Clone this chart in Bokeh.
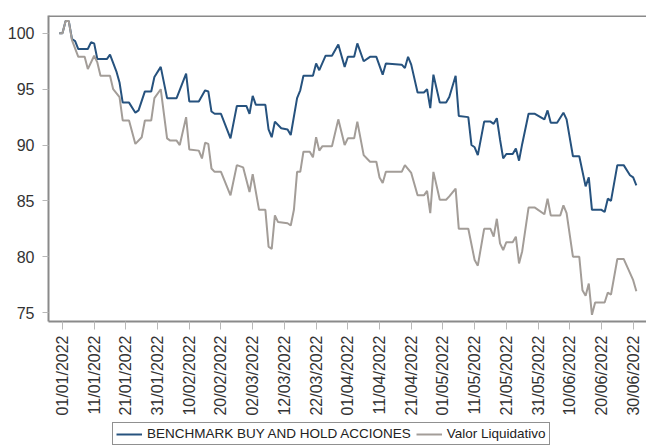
import math
import pandas as pd
from bokeh.plotting import figure
from bokeh.layouts import column
from bokeh.models import (FixedTicker, DatetimeTickFormatter, Legend, LegendItem,
                          Range1d, Span)
from bokeh.embed import file_html
from bokeh.resources import INLINE

# ---------------- data ----------------
start_date = "2022-01-01"   # day 0

bench_day = [-1, 0, 1, 2, 3, 4, 5, 8, 9, 10, 11, 14, 15, 17, 18, 19, 21, 23, 24, 26,
             28, 29, 31, 33, 36, 39, 40, 43, 45, 46, 47, 48, 50, 53, 55, 58, 59, 60, 61, 64,
             65, 66, 67, 69, 71, 72, 74, 75, 76, 79, 80, 81, 83, 85, 87, 89, 90, 92, 93, 95,
             97, 99, 101, 102, 107, 108, 109, 110, 112, 114, 115, 116, 117, 119, 121, 122, 124, 125, 128, 129,
             130, 131, 133, 135, 136, 137, 138, 139, 140, 142, 143, 144, 145, 147, 149, 152, 153, 154, 156, 158,
             159, 161, 163, 165, 166, 167, 170, 171, 172, 173, 175, 177, 179, 180, 181]
bench_val = [100.0, 100.0, 101.1, 101.1, 99.5, 99.3, 98.6, 98.6, 99.2, 99.1,
             97.7, 97.7, 98.1, 96.6, 95.6, 93.8, 93.8, 92.9, 93.1, 94.8,
             94.8, 96.1, 97.0, 94.2, 94.2, 96.4, 93.9, 93.9, 94.9, 94.8,
             93.0, 92.8, 92.8, 90.6, 93.5, 93.5, 92.8, 94.4, 93.6, 93.6,
             91.4, 90.7, 92.1, 91.5, 91.4, 90.9, 94.2, 94.9, 96.2, 96.2,
             97.3, 96.7, 98.0, 98.0, 99.0, 97.0, 97.9, 97.9, 99.1, 97.5,
             97.9, 97.9, 96.3, 97.3, 97.2, 96.9, 97.9, 97.2, 94.7, 94.7,
             95.0, 93.3, 96.3, 93.8, 93.8, 94.3, 96.2, 92.6, 92.5, 90.0,
             89.8, 89.1, 92.1, 92.1, 91.9, 92.4, 90.5, 88.8, 89.2, 89.2,
             89.7, 88.6, 90.1, 92.8, 92.8, 92.3, 93.1, 92.0, 92.0, 92.9,
             92.3, 89.0, 89.0, 86.3, 87.1, 84.2, 84.2, 84.0, 85.2, 85.0,
             88.2, 88.2, 87.3, 87.1, 86.4]

vl_day = [-1, 0, 1, 2, 3, 5, 7, 8, 10, 11, 12, 15, 16, 18, 19, 21, 23, 25, 26, 28,
          29, 31, 33, 34, 36, 37, 39, 40, 43, 44, 45, 46, 47, 48, 50, 53, 55, 57, 59, 60,
          62, 64, 65, 66, 67, 68, 71, 72, 73, 74, 75, 76, 78, 79, 80, 81, 82, 85, 87, 89,
          90, 92, 93, 95, 97, 99, 100, 101, 102, 107, 108, 110, 112, 114, 115, 116, 117, 119, 121, 122,
          124, 125, 128, 130, 131, 133, 135, 136, 137, 138, 139, 140, 142, 143, 144, 145, 147, 149, 152, 153,
          154, 157, 158, 159, 161, 163, 164, 165, 166, 167, 168, 171, 172, 173, 175, 177, 180, 181]
vl_val = [100.0, 100.0, 101.1, 101.1, 99.4, 97.9, 97.9, 96.8, 98.0, 97.4,
          96.2, 96.2, 95.0, 94.3, 92.2, 92.2, 90.1, 90.7, 92.2, 92.2,
          94.2, 95.0, 90.6, 90.4, 90.4, 90.0, 92.5, 89.6, 89.5, 88.8,
          90.2, 90.1, 87.9, 87.6, 87.6, 85.5, 88.2, 88.0, 85.8, 87.4,
          84.2, 84.2, 80.9, 80.7, 83.7, 83.1, 83.0, 82.8, 84.2, 87.6,
          87.6, 89.4, 89.4, 88.9, 90.7, 89.5, 89.9, 89.9, 92.3, 90.0,
          90.6, 90.6, 92.1, 89.1, 88.5, 88.5, 87.1, 86.6, 87.6, 87.6,
          88.2, 87.5, 85.5, 85.5, 85.9, 83.9, 87.6, 85.1, 85.1, 85.4,
          86.1, 82.5, 82.5, 79.7, 79.2, 82.5, 82.5, 81.8, 83.4, 81.2,
          80.6, 81.3, 81.3, 81.8, 79.4, 80.5, 84.4, 84.4, 83.8, 85.2,
          83.7, 83.7, 84.6, 83.9, 80.0, 80.0, 77.0, 76.5, 77.6, 74.8,
          75.9, 75.9, 76.8, 76.6, 79.8, 79.8, 77.9, 76.9]

series_names = ["BENCHMARK BUY AND HOLD ACCIONES", "Valor Liquidativo"]
series_colors = ["#26527e", "#a39d98"]
tick_labels = ["01/01/2022", "11/01/2022", "21/01/2022", "31/01/2022", "10/02/2022",
               "20/02/2022", "02/03/2022", "12/03/2022", "22/03/2022", "01/04/2022",
               "11/04/2022", "21/04/2022", "01/05/2022", "11/05/2022", "21/05/2022",
               "31/05/2022", "10/06/2022", "20/06/2022", "30/06/2022"]
y_ticks = [75, 80, 85, 90, 95, 100]
y_min, y_max = 74.2, 101.6

# ---------------- build ----------------
t0 = pd.Timestamp(start_date)
bench_x = [t0 + pd.Timedelta(days=d) for d in bench_day]
vl_x = [t0 + pd.Timedelta(days=d) for d in vl_day]
tick_ts = pd.to_datetime(tick_labels, format="%d/%m/%Y")
tick_ms = [ts.value / 1e6 for ts in tick_ts]

FONT = "Liberation Sans"
FRAME = "#8a8a8a"

p = figure(width=646, height=420, x_axis_type="datetime",
           output_backend="svg", toolbar_location=None,
           x_range=Range1d(t0 - pd.Timedelta(days=4.4), t0 + pd.Timedelta(days=184.2)),
           y_range=Range1d(y_min, y_max),
           min_border_left=48, min_border_right=0, min_border_top=15, min_border_bottom=99)
p.outline_line_color = None
p.grid.visible = False
p.background_fill_color = "white"

p.line(bench_x, bench_val, line_color=series_colors[0], line_width=2)
p.line(vl_x, vl_val, line_color=series_colors[1], line_width=2)

xa = p.xaxis[0]
xa.ticker = FixedTicker(ticks=tick_ms)
fmt = "%d/%m/%Y"
xa.formatter = DatetimeTickFormatter(days=fmt, months=fmt, years=fmt, hours=fmt,
                                     minutes=fmt, seconds=fmt, milliseconds=fmt,
                                     microseconds=fmt, minsec=fmt, hourmin=fmt)
xa.major_label_orientation = math.pi / 2
xa.major_label_text_font = FONT
xa.major_label_text_font_size = "16px"
xa.major_label_text_color = "#333333"
xa.axis_line_color = FRAME
xa.axis_line_width = 2
xa.major_tick_in = 0
xa.major_tick_out = 8
xa.major_tick_line_color = "#b8b8b8"
xa.minor_tick_line_color = None
xa.major_label_standoff = 6

ya = p.yaxis[0]
ya.ticker = FixedTicker(ticks=y_ticks)
ya.major_label_text_font = FONT
ya.major_label_text_font_size = "16px"
ya.major_label_text_color = "#333333"
ya.axis_line_color = FRAME
ya.axis_line_width = 2
ya.major_tick_in = 0
ya.major_tick_out = 6
ya.major_tick_line_color = "#b8b8b8"
ya.minor_tick_line_color = None
ya.major_label_standoff = 8

# top edge of the plot frame
p.add_layout(Span(location=y_max, dimension="width", line_color=FRAME, line_width=3))

# ---------------- legend strip ----------------
lg = figure(width=646, height=28, output_backend="svg", toolbar_location=None,
            x_range=Range1d(0, 1), y_range=Range1d(0, 1),
            min_border_left=0, min_border_right=0, min_border_top=0, min_border_bottom=0)
lg.axis.visible = False
lg.grid.visible = False
lg.outline_line_color = None
# key renderers: same series, lying outside this strip's (0..1) view, used only for the legend keys
k1 = lg.line(bench_x, bench_val, line_color=series_colors[0], line_width=2)
k2 = lg.line(vl_x, vl_val, line_color=series_colors[1], line_width=2)
legend = Legend(items=[LegendItem(label=series_names[0], renderers=[k1]),
                       LegendItem(label=series_names[1], renderers=[k2])],
                orientation="horizontal", location=(64, 3),
                label_text_font=FONT, label_text_font_size="13.5px",
                label_text_color="#222222",
                border_line_color="#222222", border_line_width=1,
                padding=3, spacing=5, glyph_width=26, glyph_height=12,
                label_height=12, label_standoff=5, margin=0)
lg.add_layout(legend, "center")

layout = column(p, lg, spacing=0)
open("out.html", "w").write(file_html(layout, INLINE))
